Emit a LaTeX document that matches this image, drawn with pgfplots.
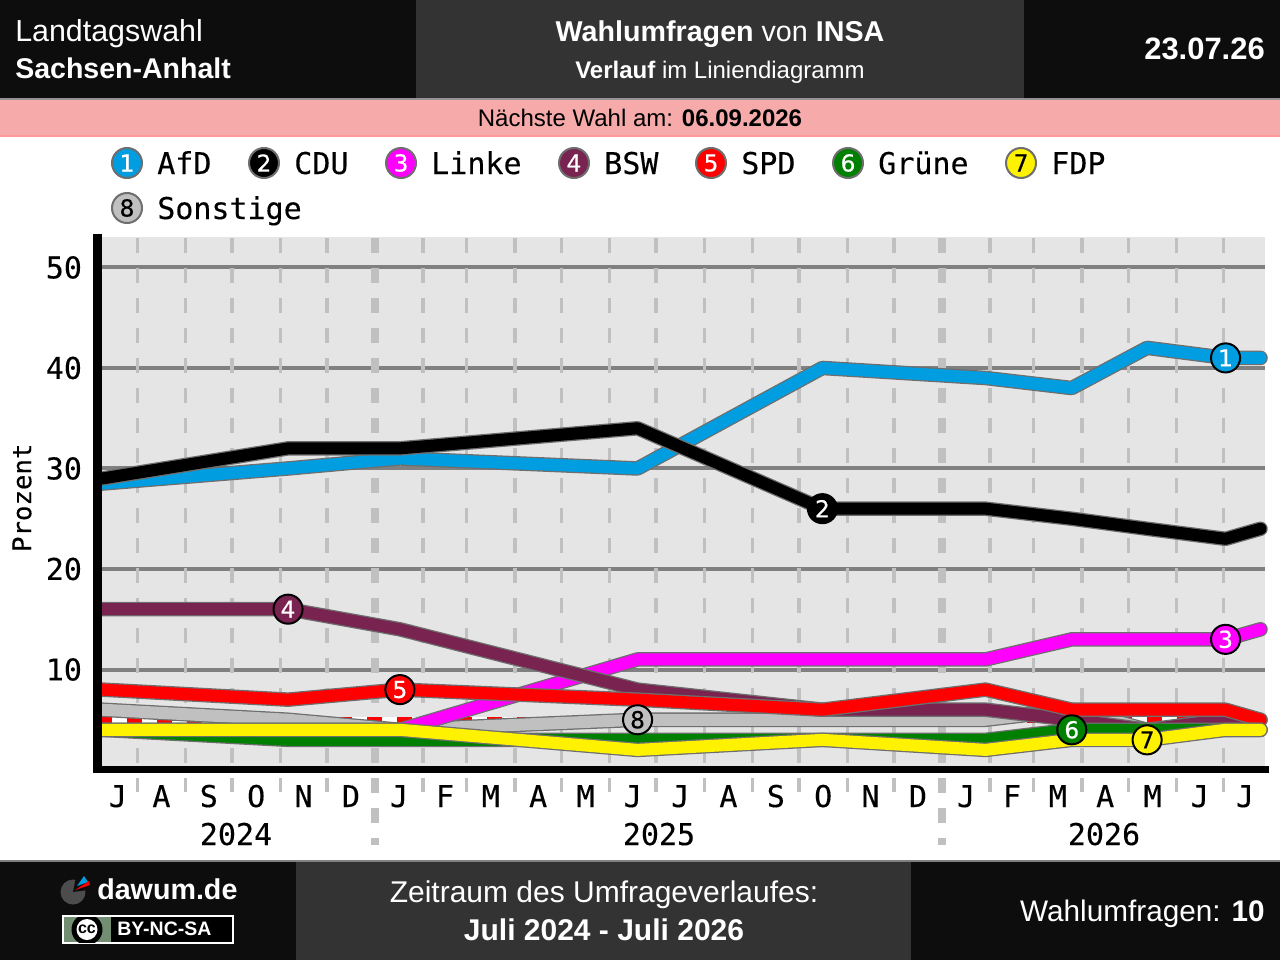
\documentclass[border=0pt]{standalone}
\usepackage{fontspec}
\setmainfont{Liberation Sans}
\newfontfamily\mono[FakeBold=0.25]{DejaVu Sans Mono}
\newfontfamily\ziffer[FakeBold=0.5]{DejaVu Sans}
\usepackage{pgfplots}
\usepackage{pgfplotstable}
\pgfplotsset{compat=1.18}

\definecolor{chrome}{HTML}{0D0D0D}
\definecolor{panel}{HTML}{333333}
\definecolor{rosa}{HTML}{F6AAAA}
\definecolor{rosakante}{HTML}{FF9A9A}
\definecolor{plotbg}{HTML}{E5E5E5}
\definecolor{gridh}{HTML}{808080}
\definecolor{gridv}{HTML}{C0C0C0}
\definecolor{kante}{HTML}{6E6E6E}
\definecolor{afd}{HTML}{009EE0}
\definecolor{bsw}{HTML}{792350}
\definecolor{linke}{HTML}{FF00FF}
\definecolor{gruene}{HTML}{008000}
\definecolor{sonst}{HTML}{C0C0C0}

% d = Tage seit 01.07.2024
\pgfplotstableread{
d     afd  cdu  linke bsw spd gruene fdp sonst
8.24  28.5 29   4     16  8   4      4   6
128   30   32   4     16  7   3      4   5
200   31   32   4     14  8   3      4   4
353   30   34   11    8   7   3      2   5
472   40   26   11    6   6   3      3   5
577   39   26   11    6   8   3      2   5
632.5 38   25   13    5   6   4      3   6
681   42   24   13    4   6   4      3   4
731.5 41   23   13    5   6   4      4   4
754   41   24   14    5   5   4      4   4
}\umfragen

\newcommand{\partei}[2]{
  \addplot[forget plot,kante,line width=10.9pt,line cap=round,line join=round] table[x=d,y=#1] {\umfragen};
  \addplot[forget plot,#2,line width=9pt,line cap=round,line join=round] table[x=d,y=#1] {\umfragen};
}
\newcommand{\marke}[5]{
  \addplot[forget plot,only marks,mark=*,mark size=10.9pt,
    mark options={fill=#3,draw=black,line width=1.5pt},
    nodes near coords={\fontsize{17.5}{17.5}\selectfont\ziffer\textcolor{#4}{#5}},
    nodes near coords align={center}] coordinates {(#1,#2)};
}
\newcommand{\leg}[6]{
  \node[circle,minimum size=22.5pt,inner sep=0pt,fill=#3,draw=kante,line width=1.5pt,text=#4,
    font=\fontsize{17.5}{17.5}\selectfont\ziffer] at (#1,#2) {#5};
  \node[anchor=base west,inner sep=0pt,font=\fontsize{22.5}{27}\selectfont\mono] at (#1+30,#2+11) {#6};
}

\begin{document}
\begin{tikzpicture}
\begin{scope}[x=0.75pt,y=-0.75pt]
  \fill[white] (0,0) rectangle (1280,960);
  % Kopf
  \fill[chrome] (0,0) rectangle (1280,98);
  \fill[panel] (416,0) rectangle (1024,98);
  \fill[rosa] (0,98) rectangle (1280,137);
  \fill[gridh!85!white] (0,98) rectangle (1280,100);
  \fill[rosakante] (0,135) rectangle (1280,137);
  \node[anchor=base west,inner sep=0pt,text=white,font=\fontsize{22.8}{26}\selectfont] at (15,41) {Landtagswahl};
  \node[anchor=base west,inner sep=0pt,text=white,font=\fontsize{21.4}{26}\selectfont\bfseries] at (15,78) {Sachsen-Anhalt};
  \node[anchor=base,inner sep=0pt,text=white,font=\fontsize{21.5}{26}\selectfont] at (720,41) {\textbf{Wahlumfragen} von \textbf{INSA}};
  \node[anchor=base,inner sep=0pt,text=white,font=\fontsize{18}{22}\selectfont] at (720,78) {\textbf{Verlauf} im Liniendiagramm};
  \node[anchor=base east,inner sep=0pt,text=white,font=\fontsize{23.2}{26}\selectfont\bfseries] at (1265,59) {23.07.26};
  \node[anchor=base,inner sep=0pt,text=black,font=\fontsize{18}{22}\selectfont] at (640,126) {Nächste Wahl am: \textbf{06.09.2026}};
  % Legende
  \leg{127}{163}{afd}{white}{1}{AfD}
  \leg{264}{163}{black}{white}{2}{CDU}
  \leg{401}{163}{linke}{white}{3}{Linke}
  \leg{574}{163}{bsw}{white}{4}{BSW}
  \leg{711}{163}{red}{white}{5}{SPD}
  \leg{848}{163}{gruene}{white}{6}{Grüne}
  \leg{1021}{163}{yellow}{black}{7}{FDP}
  \leg{127}{208}{sonst}{black}{8}{Sonstige}
  % Fuss
  \fill[chrome] (0,860) rectangle (1280,960);
  \fill[panel] (296,860) rectangle (911,960);
  \fill[gridh] (0,860) rectangle (1280,862);
  \node[anchor=base west,inner sep=0pt,text=white,font=\fontsize{21.5}{26}\selectfont\bfseries] at (97,899) {dawum.de};
  \fill[black!70] (73,892) circle (12.5);
  \fill[chrome] (73,892) -- (76,877) -- (92,880) -- (88,890) -- cycle;
  \fill[afd] (77,886) -- (84,876) -- (88,882) -- cycle;
  \fill[red] (75,890) -- (89,881) -- (90,885) -- cycle;
  \fill[white] (62,915) rectangle (234,944);
  \fill[black] (64,917) rectangle (232,942);
  \fill[gridv!85!green!70!black] (64,917) rectangle (111,942);
  \begin{scope}
    \clip (64,917) rectangle (232,942);
    \fill[black] (87,929.5) circle (15.5);
  \end{scope}
  \fill[white] (87,929.5) circle (10.5);
  \node[inner sep=0pt,text=black,font=\fontsize{12}{12}\selectfont\bfseries] at (87,929) {cc};
  \node[anchor=base west,inner sep=0pt,text=white,font=\fontsize{14.6}{15}\selectfont\bfseries] at (117,935) {BY-NC-SA};
  \node[anchor=base,inner sep=0pt,text=white,font=\fontsize{22.5}{26}\selectfont] at (604,902) {Zeitraum des Umfrageverlaufes:};
  \node[anchor=base,inner sep=0pt,text=white,font=\fontsize{22.5}{26}\selectfont\bfseries] at (604,940) {Juli 2024 - Juli 2026};
  \node[anchor=base east,inner sep=0pt,text=white,font=\fontsize{22.3}{26}\selectfont] at (1265,921) {Wahlumfragen: \textbf{10}};
\end{scope}

\begin{axis}[
    at={(76.5pt,-574.5pt)},anchor=south west,
    scale only axis,width=872.25pt,height=396.75pt,
    xmin=8.24,xmax=756.9,ymin=0.398,ymax=53.03,
    clip=false,
    axis background/.style={fill=plotbg},
    axis line style={draw=none},
    tick style={draw=none},
    unbounded coords=jump,
    ytick={10,20,30,40,50},
    ymajorgrids,
    grid style={gridh,line width=3pt},
    xtick={18.5,46.5,77,107.5,138,168.5,199.5,229,258.5,289,319.5,350,380.5,411.5,442,472.5,503,533.5,564.5,594,623.5,654,684.5,715,744},
    xticklabels={J,A,S,O,N,D,J,F,M,A,M,J,J,A,S,O,N,D,J,F,M,A,M,J,J},
    /pgf/number format/assume math mode=true,
    ticklabel style={font=\fontsize{22.5}{27}\selectfont\mono,text=black},
    xticklabel style={anchor=base,yshift=-30.75pt},
    yticklabel style={anchor=east,xshift=-11.5pt},
    ylabel={Prozent},
    every axis y label/.style={at={(axis description cs:-0.0688,0.507)},rotate=90,anchor=center,
      font=\fontsize{19.3}{23}\selectfont\mono},
  ]
  % Monatslinien
  \addplot[forget plot,gridv,line width=2.6pt,dash pattern=on 11.25pt off 11.25pt] coordinates {
    (31,52.94)(31,-2.19)(31,nan)(62,52.94)(62,-2.19)(62,nan)(92,52.94)(92,-2.19)(92,nan)
    (123,52.94)(123,-2.19)(123,nan)(153,52.94)(153,-2.19)(153,nan)
    (215,52.94)(215,-2.19)(215,nan)(243,52.94)(243,-2.19)(243,nan)(274,52.94)(274,-2.19)(274,nan)
    (304,52.94)(304,-2.19)(304,nan)(335,52.94)(335,-2.19)(335,nan)(365,52.94)(365,-2.19)(365,nan)
    (396,52.94)(396,-2.19)(396,nan)(427,52.94)(427,-2.19)(427,nan)(457,52.94)(457,-2.19)(457,nan)
    (488,52.94)(488,-2.19)(488,nan)(518,52.94)(518,-2.19)(518,nan)
    (580,52.94)(580,-2.19)(580,nan)(608,52.94)(608,-2.19)(608,nan)(639,52.94)(639,-2.19)(639,nan)
    (669,52.94)(669,-2.19)(669,nan)(700,52.94)(700,-2.19)(700,nan)(730,52.94)(730,-2.19)
  };
  \addplot[forget plot,gridv,line width=6pt,dash pattern=on 11.25pt off 11.25pt] coordinates {
    (184,52.94)(184,-7.46)(184,nan)(549,52.94)(549,-7.46)
  };
  % 5-Prozent-Huerde
  \addplot[forget plot,white,line width=4.5pt] coordinates {(8.24,5)(756.9,5)};
  \addplot[forget plot,red,line width=4.5pt,dash pattern=on 11.25pt off 11.25pt,dash phase=3.75pt] coordinates {(8.24,5)(756.9,5)};
  % Verlaeufe
  \partei{sonst}{sonst}
  \partei{afd}{afd}
  \partei{cdu}{black}
  \partei{linke}{linke}
  \partei{bsw}{bsw}
  \partei{spd}{red}
  \partei{gruene}{gruene}
  \partei{fdp}{yellow}
  % Nummern
  \marke{731.5}{41}{afd}{white}{1}
  \marke{472}{26}{black}{white}{2}
  \marke{731.5}{13}{linke}{white}{3}
  \marke{128}{16}{bsw}{white}{4}
  \marke{200}{8}{red}{white}{5}
  \marke{632.5}{4}{gruene}{white}{6}
  \marke{681}{3}{yellow}{black}{7}
  \marke{353}{5}{sonst}{black}{8}
\end{axis}

\begin{scope}[x=0.75pt,y=-0.75pt]
  \fill[black] (93,234) rectangle (102,773);
  \fill[black] (93,766) rectangle (1269,773);
  \node[anchor=base,inner sep=0pt,font=\fontsize{22.5}{27}\selectfont\mono] at (236,845) {2024};
  \node[anchor=base,inner sep=0pt,font=\fontsize{22.5}{27}\selectfont\mono] at (659,845) {2025};
  \node[anchor=base,inner sep=0pt,font=\fontsize{22.5}{27}\selectfont\mono] at (1104,845) {2026};
\end{scope}
\end{tikzpicture}
\end{document}
